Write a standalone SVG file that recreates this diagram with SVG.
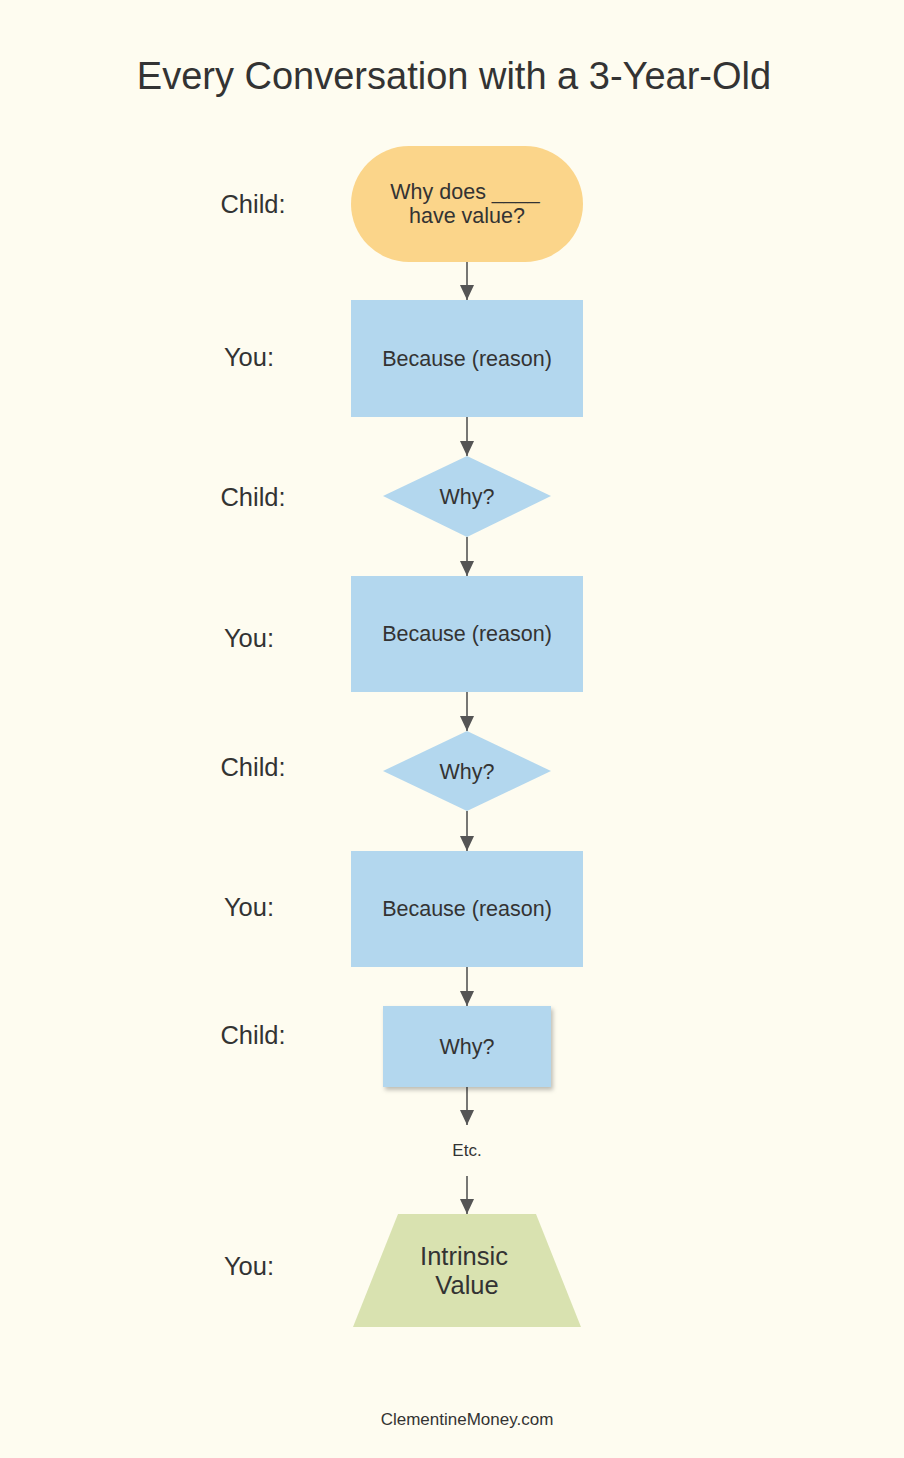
<svg xmlns="http://www.w3.org/2000/svg" width="904" height="1458" viewBox="0 0 904 1458">
<style>
text{font-family:"Liberation Sans",Arial,sans-serif;fill:#333;text-anchor:middle}
.lbl{font-size:25.5px}
.nt{font-size:21.5px}
.sm{font-size:17px}
.blue{fill:#b3d7ee}
.conn line{stroke:#555;stroke-width:1.6}
</style>
<defs>
<marker id="ah" markerWidth="15" markerHeight="14" refX="15" refY="7" orient="auto" markerUnits="userSpaceOnUse">
<path d="M0,0 L15,7 L0,14 Z" fill="#555"/>
</marker>
<filter id="sh" x="-10%" y="-10%" width="125%" height="130%">
<feDropShadow dx="2" dy="3" stdDeviation="2" flood-color="#000" flood-opacity="0.25"/>
</filter>
</defs>
<rect width="904" height="1458" fill="#fefcf0"/>
<text x="454" y="89" style="font-size:38px">Every Conversation with a 3-Year-Old</text>

<g id="labels" class="lbl">
<text x="253" y="213">Child:</text>
<text x="249" y="366">You:</text>
<text x="253" y="506">Child:</text>
<text x="249" y="647">You:</text>
<text x="253" y="776">Child:</text>
<text x="249" y="916">You:</text>
<text x="253" y="1044">Child:</text>
<text x="249" y="1275">You:</text>
</g>

<g id="conn" class="conn">
<line x1="467" y1="262" x2="467" y2="300" marker-end="url(#ah)"/>
<line x1="467" y1="417" x2="467" y2="456" marker-end="url(#ah)"/>
<line x1="467" y1="537" x2="467" y2="576" marker-end="url(#ah)"/>
<line x1="467" y1="692" x2="467" y2="731" marker-end="url(#ah)"/>
<line x1="467" y1="811" x2="467" y2="851" marker-end="url(#ah)"/>
<line x1="467" y1="967" x2="467" y2="1006" marker-end="url(#ah)"/>
<line x1="467" y1="1087" x2="467" y2="1125" marker-end="url(#ah)"/>
<line x1="467" y1="1176" x2="467" y2="1214" marker-end="url(#ah)"/>
</g>

<g id="start">
<rect x="351" y="146" width="232" height="116" rx="58" fill="#fbd58a"/>
<text class="nt" x="465" y="199">Why does ____</text>
<text class="nt" x="467" y="223">have value?</text>
</g>
<g id="you1">
<rect class="blue" x="351" y="300" width="232" height="117"/>
<text class="nt" x="467" y="366">Because (reason)</text>
</g>
<g id="why1">
<polygon class="blue" points="467,456 551,496 467,537 383,496"/>
<text class="nt" x="467" y="504">Why?</text>
</g>
<g id="you2">
<rect class="blue" x="351" y="576" width="232" height="116"/>
<text class="nt" x="467" y="641">Because (reason)</text>
</g>
<g id="why2">
<polygon class="blue" points="467,731 551,771 467,811 383,771"/>
<text class="nt" x="467" y="779">Why?</text>
</g>
<g id="you3">
<rect class="blue" x="351" y="851" width="232" height="116"/>
<text class="nt" x="467" y="916">Because (reason)</text>
</g>
<g id="why3">
<rect class="blue" x="383" y="1006" width="168" height="81" filter="url(#sh)"/>
<text class="nt" x="467" y="1054">Why?</text>
</g>
<g id="etc">
<text class="sm" x="467" y="1156">Etc.</text>
</g>
<g id="end">
<polygon points="398,1214 536,1214 581,1327 353,1327" fill="#d9e2b0"/>
<text x="464" y="1265" style="font-size:25.5px">Intrinsic</text>
<text x="467" y="1294" style="font-size:25.5px">Value</text>
</g>
<text class="sm" x="467" y="1425">ClementineMoney.com</text>
</svg>
